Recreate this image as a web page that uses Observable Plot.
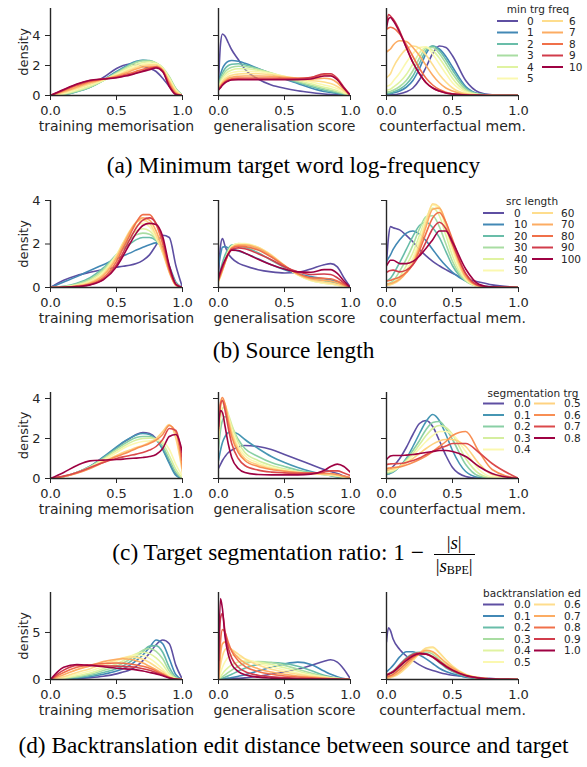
<!DOCTYPE html>
<html><head><meta charset="utf-8">
<script src="https://cdn.jsdelivr.net/npm/d3@7"></script>
<script src="https://cdn.jsdelivr.net/npm/@observablehq/plot@0.6"></script>
<style>
body{margin:0;background:#fff;}
#wrap{position:relative;width:587px;height:767px;overflow:hidden;background:#fff;}
#wrap svg{position:absolute;}
.cap{position:absolute;left:0;width:587px;text-align:center;font-family:"Liberation Serif","Times New Roman",serif;font-size:23.3px;line-height:24px;color:#000;white-space:nowrap;}
.frac{display:inline-block;vertical-align:middle;text-align:center;font-size:19px;line-height:20px;margin-left:4px;}
.frac .num{display:block;border-bottom:1px solid #000;padding:0 2px 1px 2px;}
.frac .den{display:block;padding:1px 2px 0 2px;}
.frac sub{font-size:12px;vertical-align:-2px;line-height:0;}
</style></head><body><div id="wrap"></div>
<script>
// ---------- categories ----------
const minTrgFreq = ["0","1","2","3","4","5","6","7","8","9","10"];
const srcLength = ["0","10","20","30","40","50","60","70","80","90","100"];
const segTrg = ["0.0","0.1","0.2","0.3","0.4","0.5","0.6","0.7","0.8"];
const btEd = ["0.0","0.1","0.2","0.3","0.4","0.5","0.6","0.7","0.8","0.9","1.0"];
const xLabels = ["training memorisation","generalisation score","counterfactual mem."];
const xTicks = [0, 0.5, 1];
// sample positions of the density curves, one grid per panel column
const trainX = [0,.1,.2,.3,.4,.5,.55,.6,.65,.7,.75,.8,.85,.9,.95,1];
const genX = [0,.015,.03,.05,.075,.1,.15,.2,.3,.4,.5,.6,.7,.8,.85,.9,.95,1];
const cfX = [0,.015,.03,.05,.1,.15,.2,.25,.3,.35,.4,.45,.5,.6,.7,.8,1];

// ---------- (a) min target frequency ----------
const aTrain = [
[0,.1,.32,.7,1.2,1.8,2.0,2.1,2.05,1.95,1.8,1.6,1.15,.6,.15,0],
[0,.06,.27,.55,1.05,1.6,1.85,2.1,2.28,2.35,2.3,2.1,1.7,1.1,.4,0],
[0,.06,.25,.55,1.0,1.55,1.8,2.05,2.25,2.35,2.33,2.15,1.8,1.2,.45,0],
[0,.08,.28,.57,1.0,1.5,1.75,2.0,2.2,2.3,2.3,2.17,1.85,1.25,.45,0],
[0,.11,.33,.62,1.0,1.45,1.68,1.9,2.08,2.2,2.25,2.17,1.85,1.2,.4,0],
[0,.15,.4,.7,1.02,1.4,1.6,1.8,1.97,2.1,2.15,2.12,1.8,1.1,.35,0],
[0,.2,.48,.78,1.05,1.35,1.52,1.7,1.87,2.0,2.05,2.05,1.75,1.0,.28,0],
[0,.26,.56,.86,1.08,1.3,1.45,1.6,1.77,1.9,1.95,1.95,1.7,.9,.2,0],
[0,.33,.66,.94,1.1,1.25,1.36,1.48,1.62,1.75,1.85,1.9,1.65,.75,.12,0],
[0,.37,.73,.99,1.1,1.2,1.3,1.4,1.52,1.65,1.78,1.88,1.62,.65,.08,0],
[0,.4,.77,1.02,1.1,1.18,1.27,1.36,1.48,1.6,1.72,1.83,1.58,.6,.06,0]];
const aGen = [
[.8,3.4,4.1,3.95,3.5,3.05,2.4,1.75,1.1,.7,.48,.32,.2,.1,.07,.05,.02,0],
[.9,1.4,1.8,2.1,2.28,2.33,2.28,2.15,1.8,1.45,1.1,.8,.5,.27,.2,.13,.06,0],
[.8,1.2,1.5,1.8,2.0,2.08,2.12,2.05,1.78,1.47,1.15,.86,.6,.36,.27,.18,.09,0],
[.7,1.05,1.3,1.58,1.78,1.88,1.95,1.93,1.75,1.5,1.2,.93,.68,.45,.35,.24,.12,0],
[.6,.9,1.15,1.4,1.6,1.7,1.78,1.78,1.68,1.5,1.25,1.0,.78,.55,.45,.32,.15,0],
[.55,.8,1.02,1.25,1.43,1.52,1.6,1.62,1.58,1.45,1.28,1.08,.9,.7,.6,.45,.22,0],
[.5,.72,.92,1.12,1.27,1.35,1.43,1.46,1.45,1.38,1.27,1.13,1.0,.9,.8,.6,.3,0],
[.45,.65,.83,1.0,1.15,1.22,1.28,1.3,1.3,1.28,1.22,1.15,1.1,1.15,1.1,.85,.4,0],
[.4,.58,.75,.92,1.05,1.12,1.16,1.17,1.17,1.17,1.15,1.15,1.2,1.38,1.35,1.05,.5,0],
[.38,.55,.72,.88,1.0,1.07,1.1,1.1,1.1,1.1,1.1,1.12,1.2,1.45,1.45,1.15,.55,0],
[.36,.52,.68,.85,.97,1.03,1.05,1.05,1.05,1.05,1.05,1.05,1.1,1.3,1.3,1.05,.5,0]];
const aCf = [
[.02,.03,.04,.05,.12,.25,.5,1.05,1.9,2.8,3.3,3.2,2.65,1.0,.22,.05,0],
[.1,.11,.12,.17,.3,.55,1.0,1.8,2.8,3.3,3.1,2.6,1.9,.6,.12,.03,0],
[.15,.16,.18,.24,.42,.75,1.3,2.15,3.0,3.3,3.0,2.4,1.7,.5,.1,.02,0],
[.22,.24,.27,.35,.6,1.0,1.65,2.5,3.15,3.2,2.8,2.15,1.45,.4,.08,.02,0],
[.35,.38,.42,.55,.9,1.4,2.1,2.85,3.2,3.0,2.5,1.85,1.15,.3,.06,.01,0],
[.6,.65,.72,.95,1.5,2.2,2.8,3.2,3.25,2.75,2.1,1.45,.85,.22,.05,.01,0],
[1.2,1.3,1.45,1.85,2.6,3.1,3.3,3.15,2.7,2.05,1.4,.9,.5,.13,.03,0,0],
[2.9,3.0,3.1,3.35,3.65,3.6,3.2,2.65,2.0,1.35,.85,.5,.3,.08,.02,0,0],
[4.4,4.5,4.55,4.5,4.1,3.4,2.6,1.8,1.15,.7,.4,.22,.12,.04,.01,0,0],
[4.7,5.4,5.3,5.1,4.3,3.2,2.2,1.45,.85,.5,.3,.17,.1,.03,.01,0,0],
[4.5,5.1,5.2,5.0,4.2,3.2,2.2,1.45,.85,.5,.3,.17,.1,.03,.01,0,0]];

// ---------- (b) source length ----------
const bTrain = [
[0,.33,.55,.7,.83,.93,.98,1.02,1.1,1.25,1.5,1.95,2.4,2.3,1.0,0],
[0,.25,.5,.78,1.05,1.32,1.45,1.58,1.72,1.85,1.97,2.05,1.85,1.0,.25,0],
[0,.06,.2,.45,.9,1.5,1.78,2.0,2.2,2.3,2.3,2.15,1.75,.9,.2,0],
[0,.04,.16,.38,.82,1.5,1.85,2.2,2.42,2.5,2.45,2.2,1.7,.85,.18,0],
[0,.03,.12,.32,.75,1.5,1.95,2.35,2.6,2.7,2.6,2.25,1.65,.8,.15,0],
[0,.02,.1,.27,.68,1.5,2.05,2.5,2.85,2.95,2.8,2.3,1.6,.75,.12,0],
[0,.02,.08,.24,.62,1.45,2.05,2.6,3.0,3.1,2.95,2.4,1.6,.7,.1,0],
[0,.01,.07,.2,.55,1.35,1.95,2.55,3.0,3.2,3.1,2.6,1.75,.72,.1,0],
[0,.01,.05,.16,.45,1.2,1.8,2.4,3.0,3.35,3.35,2.9,2.0,.8,.12,0],
[0,.01,.04,.13,.38,1.05,1.6,2.2,2.75,3.1,3.2,2.95,2.2,.9,.14,0],
[0,.01,.04,.12,.35,.95,1.45,2.0,2.5,2.85,2.95,2.9,2.35,1.0,.15,0]];
const bGen = [
[.5,1.9,2.25,1.9,1.55,1.35,1.12,1.0,.82,.72,.67,.7,.85,1.05,1.1,.95,.45,0],
[1.0,1.5,1.85,1.88,1.82,1.78,1.68,1.58,1.32,1.05,.82,.63,.5,.4,.35,.27,.13,0],
[.5,.8,1.15,1.5,1.8,1.95,1.92,1.85,1.6,1.25,.92,.62,.42,.3,.25,.18,.08,0],
[.35,.6,.9,1.3,1.7,1.9,2.0,1.98,1.78,1.42,.98,.6,.35,.22,.18,.12,.06,0],
[.3,.52,.8,1.2,1.65,1.9,2.02,2.0,1.82,1.45,.98,.58,.32,.2,.16,.11,.05,0],
[.28,.5,.76,1.15,1.6,1.88,2.02,2.02,1.85,1.48,1.0,.58,.32,.2,.16,.11,.05,0],
[.3,.52,.78,1.15,1.58,1.85,1.98,1.98,1.85,1.5,1.02,.6,.35,.25,.2,.14,.07,0],
[.32,.55,.8,1.15,1.56,1.82,1.95,1.95,1.8,1.45,1.0,.62,.4,.33,.3,.22,.1,0],
[.35,.6,.85,1.18,1.55,1.8,1.9,1.88,1.72,1.4,1.0,.65,.45,.42,.4,.3,.14,0],
[.4,.68,.92,1.22,1.55,1.75,1.82,1.78,1.55,1.28,.95,.72,.6,.62,.6,.45,.2,0],
[.45,.75,1.0,1.27,1.55,1.72,1.7,1.58,1.3,1.05,.85,.72,.7,.82,.82,.65,.3,0]];
const bCf = [
[1.1,2.3,2.8,2.75,2.65,2.4,2.1,1.75,1.45,1.2,1.0,.82,.65,.4,.25,.12,0],
[1.2,1.35,1.5,1.75,2.2,2.5,2.6,2.45,2.15,1.75,1.35,1.0,.7,.3,.1,.03,0],
[.3,.35,.42,.6,1.15,1.75,2.35,2.85,3.0,2.75,2.3,1.65,1.0,.3,.06,.01,0],
[.15,.18,.22,.3,.75,1.3,1.95,2.7,3.25,3.3,2.8,2.0,1.2,.3,.05,.01,0],
[.12,.14,.17,.22,.5,1.0,1.6,2.4,3.2,3.65,3.3,2.4,1.45,.35,.05,.01,0],
[.1,.12,.14,.18,.4,.8,1.35,2.2,3.1,3.8,3.6,2.7,1.7,.4,.05,.01,0],
[.1,.11,.13,.17,.35,.7,1.2,2.0,3.0,3.85,3.7,2.85,1.85,.45,.06,.01,0],
[.15,.16,.18,.22,.38,.68,1.1,1.85,2.8,3.6,3.65,3.0,2.0,.5,.07,.01,0],
[.3,.31,.33,.38,.48,.7,1.05,1.7,2.5,3.2,3.45,3.0,2.2,.6,.08,.01,0],
[.7,.75,.78,.8,.72,.8,1.05,1.5,2.1,2.7,3.0,2.7,2.0,.65,.1,.02,0],
[1.0,1.15,1.25,1.25,1.1,1.1,1.2,1.45,1.8,2.2,2.6,2.6,2.1,.85,.15,.02,0]];

// ---------- (c) target segmentation ratio ----------
const cTrain = [
[0,.1,.3,.6,1.05,1.55,1.8,2.0,2.2,2.3,2.25,2.0,1.5,.8,.2,0],
[0,.1,.3,.62,1.08,1.58,1.82,2.02,2.18,2.25,2.2,1.95,1.45,.75,.15,0],
[0,.1,.3,.6,1.02,1.48,1.7,1.9,2.05,2.1,2.1,1.95,1.6,.95,.3,0],
[0,.1,.3,.58,.97,1.4,1.6,1.78,1.92,2.0,2.02,1.98,1.75,1.15,.45,0],
[0,.1,.28,.55,.92,1.3,1.5,1.66,1.78,1.85,1.88,1.9,1.85,1.45,.7,.1],
[0,.1,.27,.52,.85,1.15,1.3,1.42,1.55,1.65,1.8,2.0,2.35,2.7,2.0,.3],
[0,.1,.26,.5,.8,1.1,1.22,1.35,1.5,1.62,1.75,1.92,2.2,2.65,2.3,.5],
[0,.12,.3,.55,.8,1.0,1.08,1.15,1.22,1.3,1.42,1.6,1.95,2.5,2.4,.9],
[0,.3,.65,.88,.92,.95,.97,1.0,1.02,1.05,1.1,1.2,1.5,2.1,2.2,1.3]];
const cGen = [
[.5,.7,.9,1.1,1.3,1.42,1.58,1.65,1.6,1.45,1.2,.95,.7,.45,.35,.25,.12,0],
[.9,1.4,1.8,2.1,2.3,2.35,2.22,1.95,1.5,1.1,.8,.55,.35,.2,.14,.08,.04,0],
[1.5,2.4,2.9,3.1,2.9,2.6,1.95,1.5,1.1,.8,.6,.42,.3,.2,.15,.1,.05,0],
[1.8,3.0,3.5,3.6,3.2,2.7,1.8,1.3,.9,.65,.48,.35,.26,.2,.17,.12,.06,0],
[2.0,3.3,3.8,3.7,3.1,2.5,1.6,1.15,.78,.56,.42,.32,.25,.2,.18,.14,.08,0],
[2.2,3.6,3.95,3.7,3.0,2.3,1.45,1.0,.68,.5,.38,.3,.25,.22,.2,.17,.1,.02],
[2.4,3.8,4.05,3.7,2.8,2.1,1.3,.9,.6,.45,.36,.3,.27,.25,.25,.2,.12,.05],
[2.5,3.7,3.9,3.4,2.5,1.75,1.0,.65,.42,.32,.28,.26,.27,.32,.38,.38,.28,.15],
[2.6,3.4,3.3,2.6,1.7,1.05,.5,.3,.2,.18,.18,.18,.22,.4,.6,.72,.6,.3]];
const cCf = [
[.35,.4,.48,.6,1.0,1.55,2.2,2.75,2.9,2.6,1.9,1.15,.55,.1,.01,0,0],
[.2,.22,.26,.32,.6,1.0,1.6,2.25,2.85,3.2,2.9,2.2,1.4,.35,.05,0,0],
[.25,.27,.3,.35,.6,.95,1.4,1.9,2.45,2.8,2.85,2.5,1.95,.7,.12,.01,0],
[.3,.32,.34,.38,.58,.88,1.25,1.7,2.15,2.5,2.65,2.55,2.2,1.0,.25,.03,0],
[.35,.37,.39,.42,.6,.85,1.15,1.5,1.85,2.15,2.35,2.35,2.2,1.35,.45,.08,0],
[.42,.44,.46,.48,.6,.78,1.0,1.25,1.5,1.72,1.88,1.95,1.95,1.6,.75,.2,0],
[.5,.52,.53,.55,.58,.68,.8,.95,1.12,1.35,1.6,1.85,2.15,2.35,1.35,.45,0],
[.7,.72,.73,.74,.75,.8,.9,1.02,1.2,1.35,1.5,1.62,1.75,1.75,1.3,.75,0],
[.95,1.05,1.12,1.15,1.15,1.17,1.2,1.25,1.3,1.35,1.4,1.4,1.35,1.1,.6,.25,0]];

// ---------- (d) backtranslation edit distance ----------
const dTrain = [
[0,.05,.1,.2,.35,.6,.8,1.0,1.4,2.0,2.8,3.7,4.2,3.8,1.5,0],
[0,.08,.15,.3,.55,.9,1.15,1.5,2.0,2.6,3.4,4.2,3.8,2.2,.5,0],
[0,.1,.22,.42,.75,1.15,1.45,1.85,2.4,3.0,3.55,3.6,2.9,1.3,.25,0],
[0,.12,.3,.55,.95,1.4,1.75,2.15,2.65,3.1,3.3,3.0,2.2,.9,.15,0],
[0,.15,.4,.7,1.15,1.65,2.0,2.4,2.75,2.9,2.75,2.3,1.6,.6,.1,0],
[0,.2,.55,.9,1.4,1.95,2.25,2.5,2.6,2.55,2.25,1.75,1.1,.4,.06,0],
[0,.3,.75,1.15,1.65,2.1,2.3,2.4,2.35,2.15,1.8,1.35,.85,.3,.05,0],
[0,.5,1.05,1.45,1.9,2.15,2.2,2.15,2.0,1.75,1.4,1.05,.65,.25,.04,0],
[0,.75,1.3,1.55,1.7,1.75,1.72,1.65,1.55,1.4,1.2,.9,.55,.2,.03,0],
[0,1.0,1.5,1.5,1.45,1.42,1.4,1.35,1.28,1.15,.98,.75,.48,.18,.03,0],
[0,1.3,1.6,1.5,1.35,1.2,1.15,1.1,1.02,.9,.75,.6,.4,.15,.02,0]];
const dGen = [
[0,.02,.04,.06,.08,.1,.13,.17,.35,.55,.8,1.1,1.5,1.95,2.1,1.85,1.1,.05],
[0,.03,.06,.1,.15,.2,.35,.5,.9,1.3,1.65,1.85,1.6,.9,.55,.3,.1,0],
[0,.08,.15,.25,.4,.55,.9,1.2,1.6,1.8,1.7,1.4,.95,.45,.28,.15,.06,0],
[0,.15,.3,.5,.75,1.0,1.4,1.7,1.9,1.8,1.5,1.1,.7,.35,.22,.12,.05,0],
[0,.3,.6,.95,1.3,1.55,1.85,1.95,1.85,1.6,1.25,.9,.55,.28,.18,.1,.04,0],
[0,.7,1.3,1.9,2.4,2.6,2.45,2.2,1.75,1.35,1.0,.7,.45,.25,.16,.1,.04,0],
[0,1.5,2.5,3.2,3.4,3.2,2.7,2.2,1.55,1.1,.8,.55,.35,.2,.14,.08,.04,0],
[0,2.6,3.8,4.0,3.6,3.1,2.3,1.75,1.15,.8,.55,.38,.25,.15,.1,.06,.03,0],
[0,4.0,5.3,5.0,3.9,3.0,2.0,1.4,.85,.55,.38,.26,.18,.1,.07,.05,.02,0],
[1.0,6.5,7.0,5.0,3.3,2.3,1.3,.85,.45,.28,.2,.14,.1,.06,.04,.03,.01,0],
[2.0,8.6,7.5,4.5,2.6,1.6,.85,.5,.25,.15,.1,.06,.04,.02,.01,.01,0,0]];
const dCf = [
[4.0,5.5,5.2,4.3,3.2,2.5,2.0,1.55,1.2,.95,.75,.58,.45,.3,.2,.1,0],
[.8,1.0,1.2,1.5,2.4,2.95,2.95,2.6,2.2,1.7,1.2,.85,.6,.25,.1,.04,0],
[.5,.6,.72,.9,1.6,2.3,2.75,2.9,2.8,2.4,1.8,1.25,.85,.35,.12,.04,0],
[.4,.48,.56,.7,1.3,2.0,2.55,2.85,2.95,2.7,2.1,1.5,1.0,.4,.14,.05,0],
[.3,.36,.42,.55,1.05,1.75,2.4,2.85,3.05,2.9,2.35,1.7,1.15,.45,.16,.05,0],
[.15,.2,.25,.35,.75,1.35,2.05,2.75,3.25,3.35,2.8,2.1,1.45,.55,.2,.06,0],
[.1,.14,.18,.28,.65,1.25,2.0,2.8,3.35,3.45,2.85,2.1,1.4,.5,.18,.05,0],
[.2,.25,.3,.4,.85,1.5,2.2,2.8,3.1,2.95,2.4,1.8,1.25,.5,.18,.05,0],
[.3,.36,.42,.55,1.1,1.75,2.35,2.65,2.7,2.45,2.0,1.5,1.05,.45,.17,.05,0],
[.5,.6,.7,.85,1.55,2.2,2.65,2.8,2.7,2.35,1.85,1.35,.95,.4,.15,.05,0],
[.45,.55,.65,.8,1.4,2.0,2.5,2.75,2.7,2.4,1.9,1.4,1.0,.42,.16,.05,0]];

// ---------- layout ----------
const INK = "#262626";
const colX = [50, 218, 386];
const PW = 132;
const grids = [trainX, genX, cfX];
const rows = [
  {top: 8, y0: 95, ymax: 5.8, ticks: [0,2,4], cats: minTrgFreq, title: "min trg freq", data: [aTrain, aGen, aCf],
   leg: {tx: 538, ty: 9, rows: [21, 32.5, 44, 55.5, 67, 78.5], split: 6, l1: 497, l2: 542, t1: 527, t2: 569}},
  {top: 200, y0: 287, ymax: 4.0, ticks: [0,2,4], cats: srcLength, title: "src length", data: [bTrain, bGen, bCf],
   leg: {tx: 532, ty: 201, rows: [213, 224.5, 236, 247.5, 259, 270.5], split: 6, l1: 483, l2: 532, t1: 514, t2: 561}},
  {top: 392, y0: 478, ymax: 4.3, ticks: [0,2,4], cats: segTrg, title: "segmentation trg", data: [cTrain, cGen, cCf],
   leg: {tx: 533, ty: 393, rows: [403.5, 415, 426.5, 438, 449.5], split: 5, l1: 483, l2: 534, t1: 514, t2: 564}},
  {top: 592, y0: 679, ymax: 9.25, ticks: [0,5], cats: btEd, title: "backtranslation ed", data: [dTrain, dGen, dCf],
   leg: {tx: 532, ty: 593.5, rows: [604.5, 616, 627.5, 639, 650.5, 662], split: 6, l1: 483, l2: 534, t1: 514, t2: 564}}
];
const captions = [
  {y: 165, html: "(a) Minimum target word log-frequency"},
  {y: 350, html: "(b) Source length"},
  {y: 545, html: '(c) Target segmentation ratio: 1 − <span class="frac"><span class="num">|<i>s</i>|</span><span class="den">|<i>s</i><sub>BPE</sub>|</span></span>'},
  {y: 745, html: "(d) Backtranslation edit distance between source and target"}
];

const wrap = document.getElementById("wrap");
const ML = 48, MR = 14, MT = 4, MB = 46;

rows.forEach((r) => {
  const n = r.cats.length;
  const color = i => d3.interpolateSpectral(1 - i / (n - 1));
  r.data.forEach((series, ci) => {
    const table = [];
    series.forEach((vals, si) => vals.forEach((v, k) => table.push({x: grids[ci][k], y: v, s: si, c: color(si)})));
    const svg = Plot.plot({
      width: ML + PW + MR,
      height: MT + (r.y0 - r.top) + MB,
      marginLeft: ML, marginRight: MR, marginTop: MT, marginBottom: MB,
      style: {background: "transparent", fontFamily: "DejaVu Sans", fontSize: "13px", color: INK, overflow: "visible"},
      x: {domain: [0, 1]},
      y: {domain: [0, r.ymax]},
      marks: [
        Plot.line(table, {x: "x", y: "y", z: "s", stroke: "c", strokeWidth: 1.6, curve: "monotone-x", clip: true}),
        Plot.ruleX([0], {stroke: INK, strokeWidth: 1.4}),
        Plot.ruleY([0], {stroke: INK, strokeWidth: 1.4}),
        Plot.axisX({ticks: xTicks, tickFormat: d3.format(".1f"), tickSize: 5, tickPadding: 5, fontSize: 13, label: null}),
        Plot.text([xLabels[ci]], {text: d => d, frameAnchor: "bottom", dy: 35, fontSize: 14, fill: INK}),
        Plot.axisY({ticks: r.ticks, tickSize: 5, tickPadding: 5, fontSize: 13,
          tickFormat: ci === 0 ? (d => String(d)) : (() => ""),
          label: ci === 0 ? "density" : null, labelAnchor: "center", labelOffset: 32, labelArrow: "none"})
      ]
    });
    svg.style.left = (colX[ci] - ML) + "px";
    svg.style.top = (r.top - MT) + "px";
    wrap.appendChild(svg);
  });

  // legend
  const L = r.leg;
  const lg = d3.select(wrap).append("svg")
    .attr("width", 587).attr("height", 767)
    .style("left", "0px").style("top", "0px")
    .attr("font-family", "DejaVu Sans").attr("font-size", 10.5).attr("fill", INK);
  lg.append("text").attr("x", L.tx).attr("y", L.ty).attr("dy", "0.35em").attr("text-anchor", "middle").text(r.title);
  r.cats.forEach((cat, i) => {
    const second = i >= L.split;
    const yy = L.rows[second ? i - L.split : i];
    const lx = second ? L.l2 : L.l1;
    lg.append("line").attr("x1", lx).attr("x2", lx + 21).attr("y1", yy).attr("y2", yy)
      .attr("stroke", color(i)).attr("stroke-width", 2);
    lg.append("text").attr("x", second ? L.t2 : L.t1).attr("y", yy).attr("dy", "0.35em").text(cat);
  });
});

captions.forEach(c => {
  const d = document.createElement("div");
  d.className = "cap";
  d.style.top = (c.y - 12) + "px";
  d.innerHTML = c.html;
  wrap.appendChild(d);
});
</script></body></html>
